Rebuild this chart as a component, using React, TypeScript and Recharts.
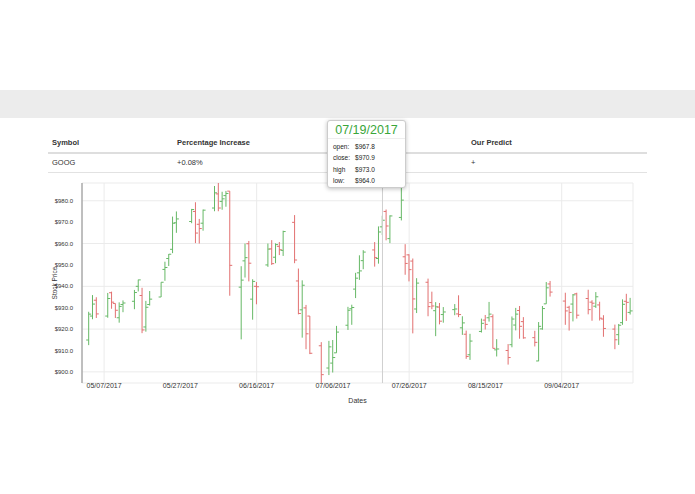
import React from "react";
import { ComposedChart, Bar, XAxis, YAxis, CartesianGrid, ReferenceLine, Label } from "recharts";

const dates = [
  "05/03/2017","05/04/2017","05/05/2017","05/08/2017","05/09/2017","05/10/2017","05/11/2017","05/12/2017",
  "05/15/2017","05/16/2017","05/17/2017","05/18/2017","05/19/2017","05/22/2017","05/23/2017","05/24/2017",
  "05/25/2017","05/26/2017","05/30/2017","05/31/2017","06/01/2017","06/02/2017","06/05/2017","06/06/2017",
  "06/07/2017","06/08/2017","06/09/2017","06/12/2017","06/13/2017","06/14/2017","06/15/2017","06/16/2017",
  "06/19/2017","06/20/2017","06/21/2017","06/22/2017","06/23/2017","06/26/2017","06/27/2017","06/28/2017",
  "06/29/2017","06/30/2017","07/03/2017","07/05/2017","07/06/2017","07/07/2017","07/10/2017","07/11/2017",
  "07/12/2017","07/13/2017","07/14/2017","07/17/2017","07/18/2017","07/19/2017","07/20/2017","07/21/2017",
  "07/24/2017","07/25/2017","07/26/2017","07/27/2017","07/28/2017","07/31/2017","08/01/2017","08/02/2017",
  "08/03/2017","08/04/2017","08/07/2017","08/08/2017","08/09/2017","08/10/2017","08/11/2017","08/14/2017",
  "08/15/2017","08/16/2017","08/17/2017","08/18/2017","08/21/2017","08/22/2017","08/23/2017","08/24/2017",
  "08/25/2017","08/28/2017","08/29/2017","08/30/2017","08/31/2017","09/01/2017","09/05/2017","09/06/2017",
  "09/07/2017","09/08/2017","09/11/2017","09/12/2017","09/13/2017","09/14/2017","09/15/2017","09/18/2017",
  "09/19/2017","09/20/2017","09/21/2017","09/22/2017",
];

const opens = [
  914.9, 926.1, 933.5, 926.1, 937.0, 932.0, 925.3, 931.5,
  933.0, 940.0, 935.7, 921.0, 931.5, 935.0, 947.9, 953.0,
  957.3, 969.7, 970.3, 975.0, 969.0, 969.5, 976.6, 983.2,
  979.7, 982.4, 984.5, 939.6, 951.9, 959.9, 934.0, 940.0,
  950.0, 957.5, 953.6, 958.7, 956.8, 969.9, 942.5, 929.0,
  929.9, 926.1, 912.2, 901.8, 904.1, 908.9, 921.8, 929.5,
  938.7, 946.3, 952.0, 957.0, 953.0, 967.8, 975.0, 962.3,
  972.2, 953.8, 954.7, 951.8, 929.4, 941.9, 932.4, 928.6,
  930.3, 926.8, 929.1, 927.1, 920.6, 917.6, 908.0, 918.9,
  924.2, 925.3, 925.8, 910.3, 910.0, 912.7, 921.9, 928.7,
  923.5, 916.0, 905.1, 920.1, 931.8, 941.1, 933.1, 930.2,
  931.7, 936.5, 934.3, 932.6, 930.7, 931.3, 924.7, 920.0,
  917.4, 923.0, 933.0, 927.8,
];

const highs = [
  928.1, 935.9, 934.9, 936.9, 937.5, 932.0, 932.5, 933.4,
  938.3, 943.1, 939.3, 933.2, 937.8, 941.9, 951.5, 955.1,
  972.6, 975.0, 976.2, 979.3, 971.5, 975.9, 986.9, 988.3,
  984.2, 984.6, 984.5, 949.4, 960.0, 961.2, 943.3, 942.0,
  960.0, 961.6, 960.1, 960.7, 966.0, 973.3, 948.3, 942.8,
  931.3, 926.1, 913.9, 914.5, 914.9, 921.5, 930.4, 931.4,
  946.3, 954.5, 956.9, 960.7, 968.0, 973.0, 975.9, 973.2,
  986.2, 959.7, 955.0, 953.0, 943.8, 943.6, 937.5, 932.6,
  932.2, 930.3, 931.7, 935.8, 926.0, 919.3, 917.8, 924.9,
  926.6, 932.7, 926.9, 915.3, 913.0, 925.9, 929.9, 930.8,
  925.6, 919.2, 923.3, 930.8, 942.0, 942.5, 937.0, 930.9,
  936.4, 937.0, 938.4, 933.5, 937.3, 932.8, 926.5, 922.1,
  922.4, 933.9, 936.5, 934.6,
];

const lows = [
  912.5, 924.6, 925.2, 925.3, 929.5, 925.2, 923.0, 927.9,
  929.3, 937.6, 918.1, 918.8, 931.0, 935.0, 942.6, 949.5,
  955.5, 965.0, 969.5, 960.2, 960.0, 966.0, 975.1, 975.1,
  975.8, 977.2, 935.6, 915.2, 944.1, 942.3, 924.4, 931.6,
  949.1, 950.0, 950.8, 954.6, 954.2, 950.8, 926.9, 916.0,
  910.6, 908.3, 894.8, 898.5, 899.7, 908.9, 919.6, 922.0,
  934.5, 943.0, 948.0, 949.2, 950.6, 964.0, 961.5, 960.2,
  970.8, 945.4, 942.3, 918.0, 927.5, 926.0, 929.3, 916.7,
  922.2, 923.0, 926.5, 925.6, 917.3, 906.1, 905.6, 918.4,
  919.8, 923.5, 911.0, 907.2, 903.4, 911.5, 919.4, 915.5,
  915.5, 911.9, 905.0, 919.7, 931.8, 935.2, 922.0, 919.3,
  923.6, 924.9, 926.9, 923.9, 929.9, 924.0, 916.4, 910.6,
  912.6, 922.0, 923.8, 926.8,
];

const closes = [
  927.0, 931.7, 927.1, 934.3, 932.6, 928.8, 930.6, 932.2,
  937.1, 943.0, 919.6, 930.2, 934.0, 941.9, 948.8, 955.0,
  969.5, 971.5, 975.9, 964.9, 967.0, 975.6, 983.7, 976.6,
  980.9, 983.4, 949.8, 942.9, 953.4, 950.8, 942.3, 939.8,
  957.4, 950.6, 959.5, 957.1, 965.6, 952.3, 927.3, 940.5,
  917.8, 908.7, 898.7, 911.7, 906.7, 918.6, 928.8, 930.1,
  943.8, 947.2, 956.0, 953.4, 965.4, 970.9, 968.2, 972.9,
  980.3, 950.7, 947.8, 934.1, 941.5, 930.5, 930.8, 930.4,
  923.7, 928.0, 929.4, 926.8, 922.9, 907.2, 914.4, 922.7,
  922.2, 927.0, 911.0, 910.7, 906.7, 924.7, 927.0, 921.3,
  915.9, 913.8, 921.3, 929.6, 939.3, 937.3, 928.5, 927.8,
  936.0, 926.5, 929.1, 932.1, 935.1, 925.1, 920.3, 915.0,
  921.8, 931.6, 932.5, 928.5,
];

const xTickLabels = ["05/07/2017", "05/27/2017", "06/16/2017", "07/06/2017", "07/26/2017", "08/15/2017", "09/04/2017"];
const yTicks = [900, 910, 920, 930, 940, 950, 960, 970, 980];

const tableHeaders = ["Symbol", "Percentage Increase", "Our Predict"];
const tableRow = ["GOOG", "+0.08%", "+"];
const tooltipDate = "07/19/2017";

const GREEN = "#66b866";
const RED = "#e27070";
const FONT = "'Liberation Sans', Arial, Helvetica, sans-serif";

const BASE = Date.UTC(2017, 4, 7);
const toDay = (s: string) => {
  const [m, d, y] = s.split("/").map(Number);
  return Math.round((Date.UTC(y, m - 1, d) - BASE) / 86400000);
};
const fromDay = (n: number) => {
  const dt = new Date(BASE + n * 86400000);
  const mm = String(dt.getUTCMonth() + 1).padStart(2, "0");
  const dd = String(dt.getUTCDate()).padStart(2, "0");
  return `${mm}/${dd}/${dt.getUTCFullYear()}`;
};

const data = dates.map((d, i) => ({
  date: d,
  day: toDay(d),
  open: opens[i],
  high: highs[i],
  low: lows[i],
  close: closes[i],
  range: [lows[i], highs[i]],
}));

const minLow = Math.min(...lows);
const maxHigh = Math.max(...highs);
const xTicks = xTickLabels.map(toDay);

const OHLCShape = (props: any) => {
  const { x, y, width, height, payload } = props;
  if (x == null || y == null) return null;
  const cx = x + width / 2;
  const top = Math.min(y, y + height);
  const h = Math.abs(height);
  const span = payload.high - payload.low || 1;
  const toPx = (v: number) => top + ((payload.high - v) / span) * h;
  const color = payload.close >= payload.open ? GREEN : RED;
  const t = 2.5;
  return (
    <g stroke={color} strokeWidth={1}>
      <line x1={cx} x2={cx} y1={top} y2={top + h} />
      <line x1={cx - t} x2={cx} y1={toPx(payload.open)} y2={toPx(payload.open)} />
      <line x1={cx} x2={cx + t} y1={toPx(payload.close)} y2={toPx(payload.close)} />
    </g>
  );
};

const tipIdx = dates.indexOf(tooltipDate);
const tipRows = [
  ["open:", opens[tipIdx]],
  ["close:", closes[tipIdx]],
  ["high", highs[tipIdx]],
  ["low:", lows[tipIdx]],
] as [string, number][];

export default function App() {
  const colX = [52, 177, 471];
  return (
    <div style={{ position: "absolute", left: 0, top: 0, width: 695, height: 494, background: "#fff", fontFamily: FONT, overflow: "hidden" }}>
      <div style={{ position: "absolute", left: 0, top: 90, width: 695, height: 28, background: "#ececec" }} />
      {tableHeaders.map((h, i) => (
        <div key={h} style={{ position: "absolute", left: colX[i], top: 138, fontSize: 7.5, fontWeight: "bold", color: "#333", lineHeight: "10px", whiteSpace: "nowrap" }}>{h}</div>
      ))}
      <div style={{ position: "absolute", left: 48, top: 152, width: 599, height: 2, background: "#dedede" }} />
      {tableRow.map((h, i) => (
        <div key={i} style={{ position: "absolute", left: colX[i], top: 158, fontSize: 7.5, color: "#333", lineHeight: "10px", whiteSpace: "nowrap" }}>{h}</div>
      ))}
      <div style={{ position: "absolute", left: 48, top: 172, width: 599, height: 1, background: "#e2e2e2" }} />

      <div style={{ position: "absolute", left: 48, top: 175 }}>
        <ComposedChart width={600} height={230} data={data} margin={{ top: 8, right: 15, bottom: 0, left: 0 }}>
          <CartesianGrid stroke="#ebebeb" />
          <XAxis
            dataKey="day"
            type="number"
            domain={[-5.8, 138.7]}
            allowDataOverflow
            ticks={xTicks}
            tickFormatter={fromDay}
            tickLine={false}
            axisLine={false}
            tickSize={0}
            tickMargin={0}
            height={22}
            tick={{ fontSize: 7, fill: "#333", fontFamily: FONT }}
          >
            <Label value="Dates" position="insideBottom" offset={2} style={{ fontSize: 7, fill: "#333", fontFamily: FONT }} />
          </XAxis>
          <YAxis
            type="number"
            domain={[minLow, maxHigh]}
            allowDataOverflow
            ticks={yTicks}
            tickFormatter={(v: number) => `$${v.toFixed(1)}`}
            tickLine={false}
            axisLine={{ stroke: "#888" }}
            width={34}
            tickMargin={3}
            tick={{ fontSize: 6, fill: "#333", fontFamily: FONT }}
          >
            <Label value="Stock Price" angle={-90} position="insideLeft" offset={7} style={{ fontSize: 6.5, fill: "#333", textAnchor: "middle", fontFamily: FONT }} />
          </YAxis>
          <ReferenceLine x={toDay(tooltipDate)} stroke="#cfcfcf" strokeWidth={1} />
          <Bar dataKey="range" barSize={6} shape={OHLCShape} isAnimationActive={false} />
        </ComposedChart>
      </div>

      <div style={{ position: "absolute", left: 327, top: 120, width: 77, height: 66, background: "#fff", border: "1px solid #ccc", borderRadius: 3, boxShadow: "0 1px 4px rgba(0,0,0,0.25)" }}>
        <div style={{ textAlign: "center", fontSize: 12.5, color: "#3aa63a", lineHeight: "16px", marginTop: 1, borderBottom: "1px solid #eee" }}>{tooltipDate}</div>
        {tipRows.map(([k, v], i) => (
          <div key={k} style={{ position: "absolute", left: 5, top: 22 + i * 11.3, fontSize: 6.5, color: "#222", lineHeight: "8px", whiteSpace: "nowrap" }}>
            <span style={{ display: "inline-block", width: 22 }}>{k}</span>
            <span>${v.toFixed(1)}</span>
          </div>
        ))}
      </div>
    </div>
  );
}
